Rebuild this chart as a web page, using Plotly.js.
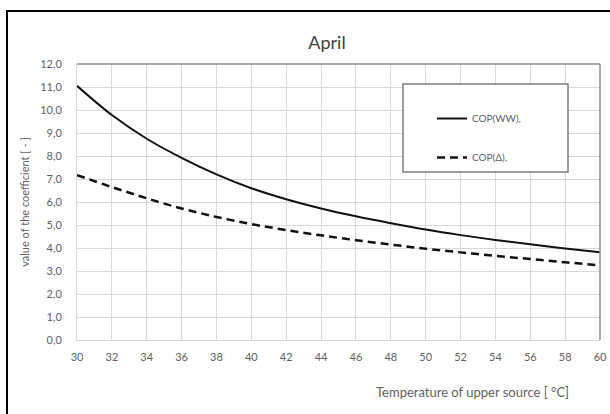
<!DOCTYPE html>
<html>
<head>
<meta charset="utf-8">
<script src="https://cdn.plot.ly/plotly-3.0.1.min.js"></script>
<style>
  html, body { margin: 0; padding: 0; background: #ffffff; }
  #chart { width: 610px; height: 414px; }
</style>
</head>
<body>
<div id="chart"></div>
<script>
// Data
const temperatures = [30, 32, 34, 36, 38, 40, 42, 44, 46, 48, 50, 52, 54, 56, 58, 60];
const copWW = [11.05, 9.78, 8.75, 7.92, 7.20, 6.60, 6.12, 5.72, 5.38, 5.08, 4.80, 4.56, 4.35, 4.16, 3.98, 3.82];
const copDelta = [7.17, 6.65, 6.16, 5.72, 5.35, 5.04, 4.78, 4.55, 4.34, 4.15, 3.97, 3.81, 3.66, 3.52, 3.38, 3.24];
const seriesNames = ['COP(WW),', 'COP(Δ),'];
const xTickVals = temperatures;
const yTickVals = [0, 1, 2, 3, 4, 5, 6, 7, 8, 9, 10, 11, 12];

const W = 610, H = 414;
const margin = {l: 77, r: 10, t: 64, b: 74};
const pw = W - margin.l - margin.r, ph = H - margin.t - margin.b;
// convert pixel -> paper
const px = x => (x - margin.l) / pw;
const py = y => (H - margin.b - y) / ph;

const textColor = '#5f5f5f';
const fontFam = 'Lato, "Open Sans", sans-serif';

const traces = [
  {
    x: temperatures, y: copWW, name: seriesNames[0], type: 'scatter', mode: 'lines',
    line: {color: '#111111', width: 2, shape: 'spline', smoothing: 1},
    legendgroup: 'a'
  },
  {
    x: temperatures, y: copDelta, name: seriesNames[1], type: 'scatter', mode: 'lines',
    line: {color: '#111111', width: 2.5, dash: '8px,5px', shape: 'spline', smoothing: 1},
    legendgroup: 'b'
  }
];

const layout = {
  width: W, height: H,
  margin: margin,
  paper_bgcolor: '#ffffff',
  plot_bgcolor: '#ffffff',
  font: {family: fontFam, size: 11, color: textColor},
  title: {
    text: 'April',
    font: {family: fontFam, size: 18, color: '#404040'},
    x: px(327), xref: 'paper', xanchor: 'center',
    y: 1 - 43 / H, yref: 'container', yanchor: 'middle'
  },
  separators: ',.',
  xaxis: {
    range: [30, 60],
    tickvals: xTickVals,
    ticktext: xTickVals.map(String),
    showgrid: true, gridcolor: '#d9d9d9', gridwidth: 1,
    zeroline: false,
    showline: true, linecolor: '#d9d9d9', linewidth: 1,
    ticks: '', ticklabelstandoff: 7,
    tickfont: {family: fontFam, size: 11, color: textColor},
    fixedrange: true
  },
  yaxis: {
    range: [0, 12],
    tickvals: yTickVals,
    tickformat: '.1f',
    showgrid: true, gridcolor: '#d9d9d9', gridwidth: 1,
    zeroline: false,
    showline: true, linecolor: '#d9d9d9', linewidth: 1,
    ticks: '', ticklabelstandoff: 12,
    tickfont: {family: fontFam, size: 11, color: textColor},
    title: {
      text: 'value of the coefficient [ - ]',
      font: {family: fontFam, size: 11, color: textColor},
      standoff: 8
    },
    fixedrange: true
  },
  showlegend: true,
  legend: {
    x: px(432), y: py(104), xanchor: 'left', yanchor: 'top',
    bgcolor: 'rgba(0,0,0,0)', borderwidth: 0,
    font: {family: fontFam, size: 10, color: textColor},
    tracegroupgap: 20
  },
  annotations: [
    {
      text: 'Temperature of upper source [ °C]',
      xref: 'paper', yref: 'paper',
      x: px(472), y: py(392), xanchor: 'center', yanchor: 'middle',
      showarrow: false,
      font: {family: fontFam, size: 13, color: textColor}
    }
  ],
  shapes: [
    // outer chart border (left and top visible)
    {type: 'line', xref: 'paper', yref: 'paper', x0: px(7), x1: px(7), y0: py(11), y1: py(420), line: {color: '#000000', width: 2}},
    {type: 'line', xref: 'paper', yref: 'paper', x0: px(6), x1: px(620), y0: py(11), y1: py(11), line: {color: '#000000', width: 2}},
    // plot area top and right frame
    {type: 'line', xref: 'paper', yref: 'paper', x0: 0, x1: 1, y0: 1, y1: 1, line: {color: '#8c8c8c', width: 1.5}},
    {type: 'line', xref: 'paper', yref: 'paper', x0: 1, x1: 1, y0: 0, y1: 1, line: {color: '#8c8c8c', width: 1.5}},
    // legend box
    {type: 'rect', xref: 'paper', yref: 'paper', x0: px(403), x1: px(568), y0: py(84), y1: py(172),
     fillcolor: '#ffffff', line: {color: '#7f7f7f', width: 1.5}, layer: 'above'}
  ]
};

Plotly.newPlot('chart', traces, layout, {displayModeBar: false, staticPlot: true});
</script>
</body>
</html>
